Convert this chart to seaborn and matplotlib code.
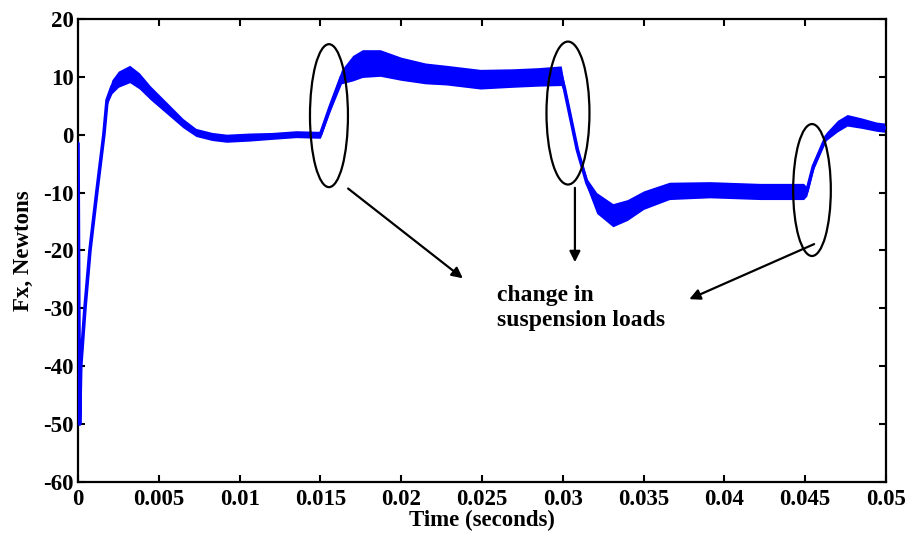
import matplotlib
matplotlib.use("Agg")
import matplotlib.pyplot as plt
import seaborn as sns
import pandas as pd
import numpy as np
from matplotlib.patches import Ellipse

# ---- data ----
time = [0.0, 0.00005, 0.0001, 0.00017, 0.00043, 0.00074, 0.00116, 0.0016, 0.0018,
        0.0021, 0.0025, 0.0032, 0.0038, 0.00446, 0.0055, 0.0065, 0.0073, 0.0083,
        0.0092, 0.0106, 0.012, 0.0135, 0.0148, 0.0150, 0.0156, 0.0163, 0.0170,
        0.0176, 0.0187, 0.0200, 0.0215, 0.0228, 0.0249, 0.0269, 0.0285, 0.0299,
        0.0301, 0.0309, 0.0315, 0.0321, 0.0331, 0.0340, 0.0350, 0.0366, 0.0391,
        0.0422, 0.0449, 0.0451, 0.0455, 0.0463, 0.0470, 0.0476, 0.0485, 0.0494,
        0.0500]
force = [-1.5, -30.0, -50.0, -40.0, -30.0, -20.0, -10.0, 0.0, 6.0,
         8.3, 9.6, 10.5, 9.3, 7.3, 4.6, 2.0, 0.4, -0.3,
         -0.6, -0.4, -0.2, 0.1, 0.0, 0.0, 4.8, 10.0, 11.5,
         12.3, 12.4, 11.4, 10.6, 10.3, 9.6, 9.8, 10.0, 10.2,
         8.0, -2.6, -8.4, -11.8, -13.9, -13.0, -11.3, -9.7, -9.5,
         -9.8, -9.8, -9.8, -5.5, -0.3, 1.5, 2.5, 2.0, 1.4,
         1.2]
# half width of the noise band around the curve
noise = [0.2, 0.2, 0.2, 0.3, 0.3, 0.3, 0.3, 0.4, 0.8,
         1.2, 1.4, 1.5, 1.4, 1.2, 1.0, 0.8, 0.7, 0.7,
         0.7, 0.7, 0.6, 0.6, 0.6, 0.6, 0.8, 1.2, 2.2,
         2.4, 2.3, 2.0, 1.8, 1.7, 1.7, 1.6, 1.6, 1.7,
         0.8, 0.5, 0.8, 1.8, 2.0, 1.8, 1.6, 1.5, 1.4,
         1.4, 1.4, 0.8, 0.6, 0.7, 1.0, 1.0, 0.9, 0.8,
         0.8]

xticks = [0, 0.005, 0.01, 0.015, 0.02, 0.025, 0.03, 0.035, 0.04, 0.045, 0.05]
xticklabels = ["0", "0.005", "0.01", "0.015", "0.02", "0.025", "0.03", "0.035", "0.04", "0.045", "0.05"]
yticks = [-60, -50, -40, -30, -20, -10, 0, 10, 20]

# ellipses: (centre t, centre y, width, height)
ellipses = [(0.01553, 3.3, 0.00235, 24.7),
            (0.03032, 3.75, 0.00266, 24.7),
            (0.04542, -9.55, 0.00233, 22.8)]
# arrows: (start t, start y, end t, end y)
arrows = [(0.01658, -9.0, 0.02395, -25.1),
          (0.03075, -8.7, 0.03075, -22.5),
          (0.04571, -18.7, 0.03767, -28.6)]
note_lines = ["change in", "suspension loads"]
note_pos = [(0.02590, -27.8), (0.02590, -32.1)]

sns.set_style("ticks")
plt.rcParams["font.family"] = ["Liberation Serif", "DejaVu Serif"]
plt.rcParams["font.weight"] = "bold"
plt.rcParams["axes.unicode_minus"] = False
plt.rcParams["text.color"] = "black"
plt.rcParams["axes.labelcolor"] = "black"
plt.rcParams["xtick.color"] = "black"
plt.rcParams["ytick.color"] = "black"

fig = plt.figure(figsize=(9.09, 5.34), dpi=100)
ax = fig.add_axes([0.0858, 0.0974, 0.8889, 0.867])

df = pd.DataFrame({"Time": time, "Fx": force})
t = np.array(time)
f = np.array(force)
n = np.array(noise)
ax.fill_between(t, f - n, f + n, color="#0000FF", linewidth=0, zorder=2)
sns.lineplot(data=df, x="Time", y="Fx", ax=ax, color="#0000FF", linewidth=2.6, zorder=3)

for (cx, cy, w, h) in ellipses:
    ax.add_patch(Ellipse((cx, cy), w, h, fill=False, edgecolor="black", linewidth=1.6, zorder=4))
for (x0, y0, x1, y1) in arrows:
    ax.annotate("", xy=(x1, y1), xytext=(x0, y0),
                arrowprops=dict(arrowstyle="-|>", color="black", lw=1.6, mutation_scale=16), zorder=4)
for txt, (px, py) in zip(note_lines, note_pos):
    ax.text(px, py, txt, fontsize=17, fontweight="bold", color="black",
            ha="left", va="center")

ax.set_xlim(0, 0.05)
ax.set_ylim(-60, 20)
ax.set_xticks(xticks)
ax.set_xticklabels(xticklabels)
ax.set_yticks(yticks)
ax.tick_params(axis="both", which="both", direction="in", length=5, width=1.5,
               labelsize=16.5, top=True, right=True, pad=3, colors="black")
ax.tick_params(axis="x", pad=5)
for lab in ax.get_xticklabels() + ax.get_yticklabels():
    lab.set_fontweight("bold")
for s in ax.spines.values():
    s.set_visible(True)
    s.set_linewidth(1.6)
    s.set_color("black")

ax.set_xlabel("Time (seconds)", fontsize=16.5, fontweight="bold", labelpad=0)
ax.set_ylabel("Fx, Newtons", fontsize=16.5, fontweight="bold", labelpad=7)

fig.savefig("out.png", dpi=100)
